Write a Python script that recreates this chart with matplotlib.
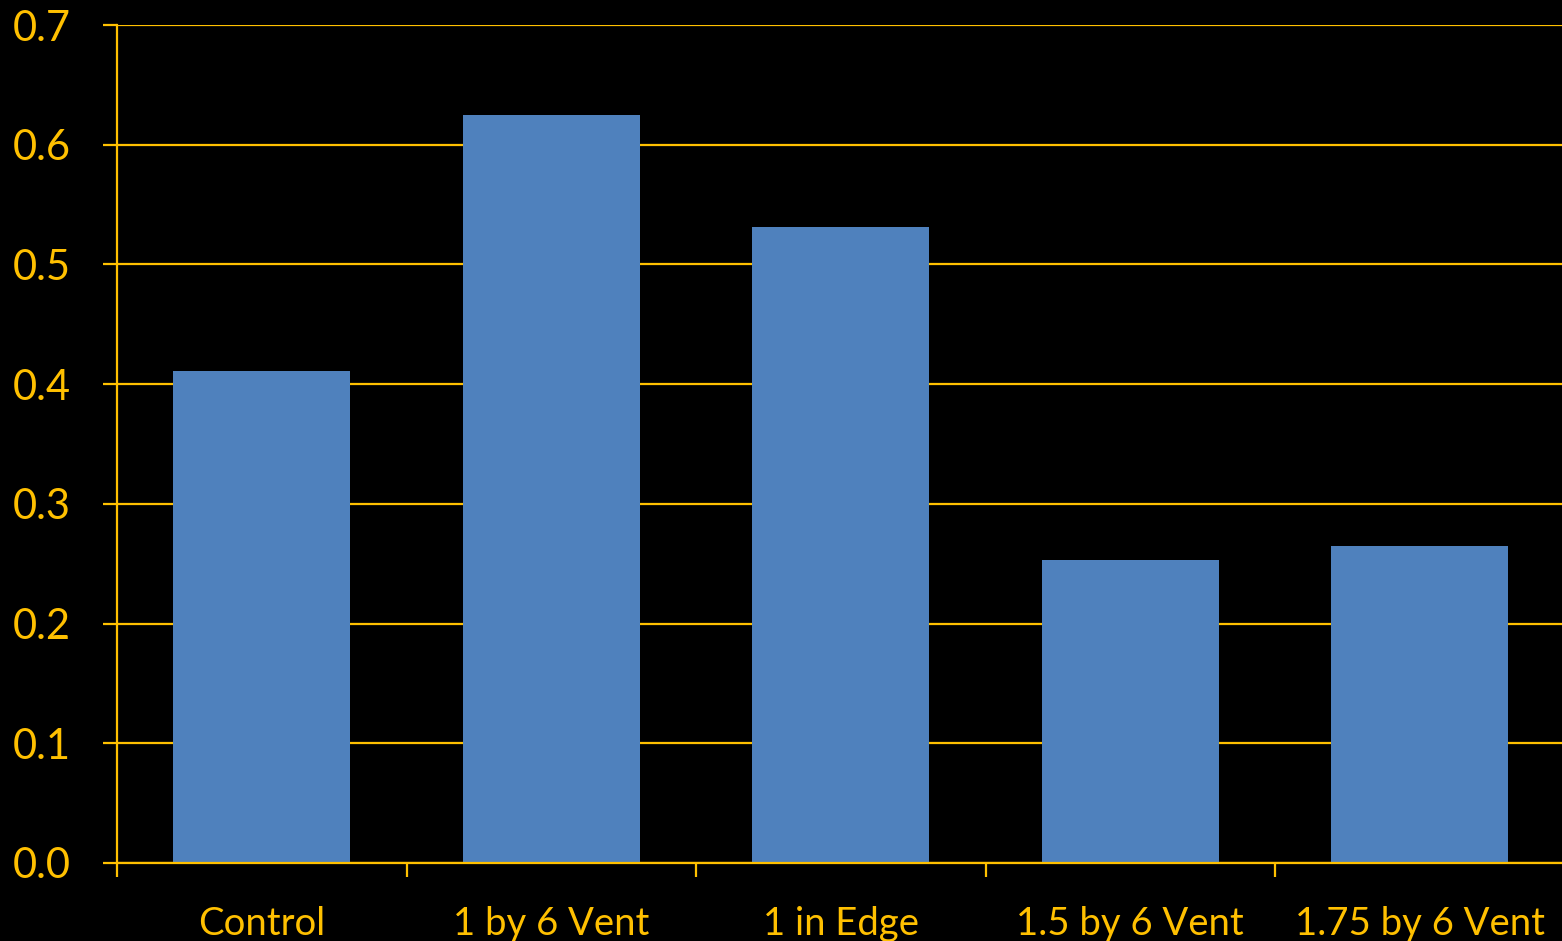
import matplotlib
matplotlib.use('Agg')
import matplotlib.pyplot as plt
import numpy as np

# 数据
categories = ['Control', '1 by 6 Vent', '1 in Edge', '1.5 by 6 Vent', '1.75 by 6 Vent']
values = [0.411, 0.625, 0.531, 0.253, 0.265]
yticks = [0.0, 0.1, 0.2, 0.3, 0.4, 0.5, 0.6, 0.7]

gold = '#FFC000'
blue = '#4F81BD'

plt.rcParams['font.family'] = ['Lato', 'DejaVu Sans']

fig = plt.figure(figsize=(15.62, 9.41), dpi=100, facecolor='black')
ax = fig.add_axes([117 / 1562, 1 - 863 / 941, 1447.5 / 1562, (863 - 25) / 941])
ax.set_facecolor('black')

x = np.arange(len(categories))
ax.bar(x, values, width=0.61, color=blue, zorder=2)

ax.set_xlim(-0.5, len(categories) - 0.5)
ax.set_ylim(0, 0.7)

# 网格线
ax.set_yticks(yticks)
ax.set_yticklabels([f'{v:.1f}' for v in yticks])
ax.yaxis.grid(True, color=gold, linewidth=1.6, zorder=1)
ax.set_axisbelow(True)

# x轴刻度：标签在中间，刻度线在分界处
ax.set_xticks(x)
ax.set_xticklabels(categories)
ax.set_xticks(np.arange(len(categories) + 1) - 0.5, minor=True)
ax.tick_params(axis='x', which='major', length=0, pad=31, labelsize=27.5, colors=gold)
ax.tick_params(axis='x', which='minor', length=10, width=1.6, color=gold, direction='out')
ax.tick_params(axis='y', length=10, width=1.6, color=gold, pad=23, labelsize=30, labelcolor=gold)

for side in ['top', 'right']:
    ax.spines[side].set_visible(False)
for side in ['left', 'bottom']:
    ax.spines[side].set_color(gold)
    ax.spines[side].set_linewidth(1.6)
    ax.spines[side].set_zorder(3)

fig.savefig('out.png', dpi=100, facecolor='black')
